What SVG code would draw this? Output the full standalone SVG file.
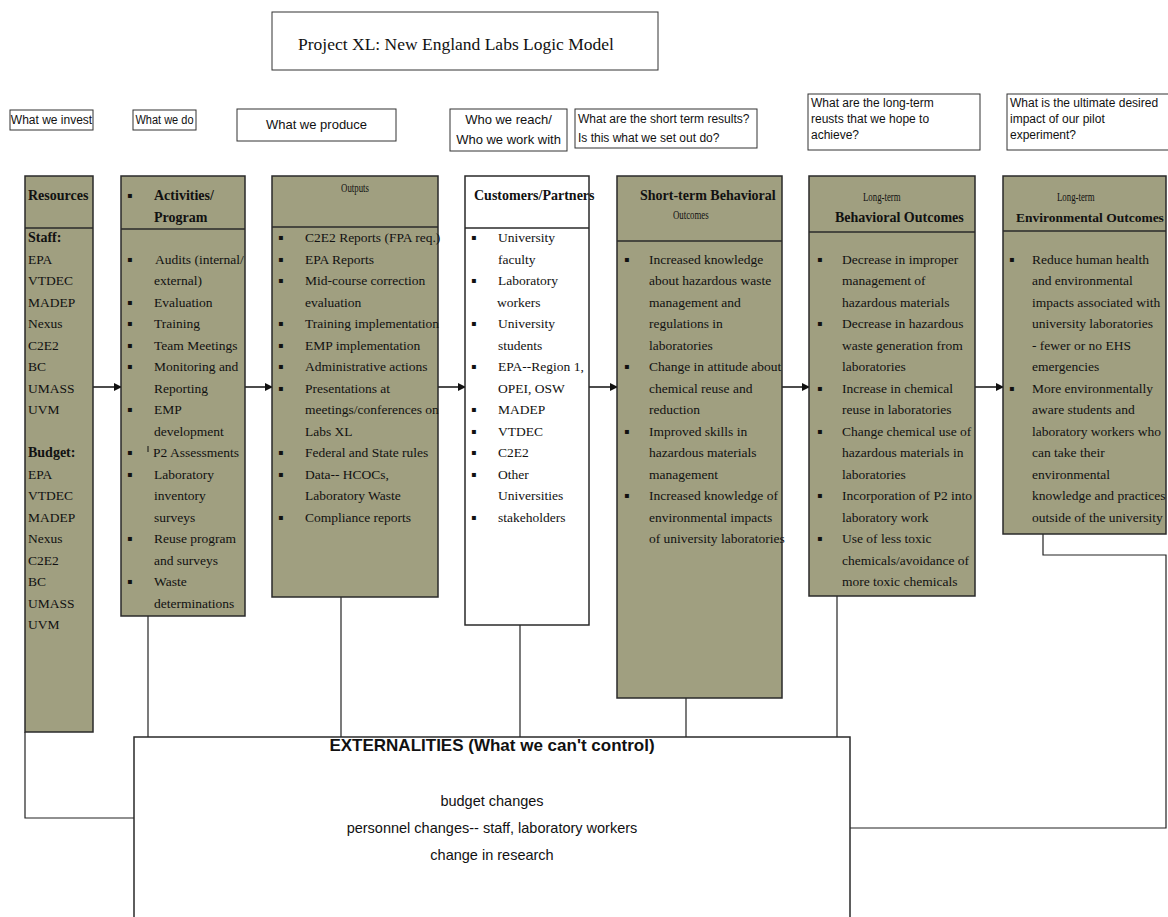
<svg xmlns="http://www.w3.org/2000/svg" width="1168" height="917" viewBox="0 0 1168 917">
<style>
.bg{fill:#ffffff}
.box{fill:#A09F80;stroke:#2a2a2a;stroke-width:1.5}
.wbox{fill:#ffffff;stroke:#2a2a2a;stroke-width:1.5}
.lbl{fill:#ffffff;stroke:#333;stroke-width:1}
.div{stroke:#2a2a2a;stroke-width:1.5}
.t{font-family:"Liberation Serif","Times New Roman",serif;font-size:13.5px;fill:#111}
.b{font-family:"Liberation Serif","Times New Roman",serif;font-size:14px;font-weight:bold;fill:#111}
.s{font-family:"Liberation Serif","Times New Roman",serif;font-size:11px;fill:#111}
.bu{font-family:"DejaVu Sans",sans-serif;font-size:8px;fill:#111}
.q{font-family:"Liberation Sans",Arial,sans-serif;font-size:12px;fill:#111}
.ti{font-family:"Liberation Serif","Times New Roman",serif;font-size:17.5px;fill:#111}
.ex{font-family:"Liberation Sans",Arial,sans-serif;font-size:17px;font-weight:bold;fill:#111}
.ext{font-family:"Liberation Sans",Arial,sans-serif;font-size:14.5px;fill:#111}
.ln{fill:none;stroke:#222;stroke-width:1.2}
.ar{fill:none;stroke:#111;stroke-width:1.5}
</style>
<defs>
<marker id="arr" markerWidth="8" markerHeight="8" refX="7" refY="4" orient="auto" markerUnits="userSpaceOnUse"><path d="M0,0 L8,4 L0,8 z" fill="#111"/></marker>
</defs>
<rect class="bg" x="0" y="0" width="1168" height="917"/>

<g id="title">
<rect class="lbl" x="272" y="12" width="386" height="58"/>
<text class="ti" x="456" y="50" text-anchor="middle">Project XL: New England Labs Logic Model</text>
</g>

<g id="q-invest">
<rect class="lbl" x="10" y="110" width="83" height="20"/>
<text class="q" x="51.5" y="124" text-anchor="middle">What we invest</text>
</g>
<g id="q-do">
<rect class="lbl" x="133" y="110" width="63" height="20"/>
<text class="q" x="164.5" y="124" text-anchor="middle" textLength="58" lengthAdjust="spacingAndGlyphs">What we do</text>
</g>
<g id="q-produce">
<rect class="lbl" x="237" y="109" width="159" height="32"/>
<text class="q" x="316.5" y="129" text-anchor="middle" style="font-size:13px">What we produce</text>
</g>
<g id="q-reach">
<rect class="lbl" x="450" y="109" width="117" height="42"/>
<text class="q" x="508.5" y="124" text-anchor="middle" style="font-size:13px">Who we reach/</text>
<text class="q" x="508.5" y="144" text-anchor="middle" style="font-size:13px">Who we work with</text>
</g>
<g id="q-short">
<rect class="lbl" x="575" y="109" width="182" height="39"/>
<text class="q" x="578" y="123">What are the short term results?</text>
<text class="q" x="578" y="142">Is this what we set out do?</text>
</g>
<g id="q-long">
<rect class="lbl" x="808" y="94" width="172" height="56"/>
<text class="q" x="811" y="107">What are the long-term</text>
<text class="q" x="811" y="123">reusts that we hope to</text>
<text class="q" x="811" y="139">achieve?</text>
</g>
<g id="q-impact">
<rect class="lbl" x="1007" y="94" width="165" height="56"/>
<text class="q" x="1010" y="107">What is the ultimate desired</text>
<text class="q" x="1010" y="123">impact of our pilot</text>
<text class="q" x="1010" y="139">experiment?</text>
</g>

<g id="connectors">
<line class="ar" x1="93" y1="387" x2="121" y2="387" marker-end="url(#arr)"/>
<line class="ar" x1="245" y1="387" x2="272" y2="387" marker-end="url(#arr)"/>
<line class="ar" x1="438" y1="387" x2="465" y2="387" marker-end="url(#arr)"/>
<line class="ar" x1="589" y1="387" x2="617" y2="387" marker-end="url(#arr)"/>
<line class="ar" x1="782" y1="387" x2="809" y2="387" marker-end="url(#arr)"/>
<line class="ar" x1="975" y1="387" x2="1003" y2="387" marker-end="url(#arr)"/>
<polyline class="ln" points="25,732 25,818 134,818"/>
<line class="ln" x1="148" y1="616" x2="148" y2="737"/>
<line class="ln" x1="341" y1="597" x2="341" y2="737"/>
<line class="ln" x1="520" y1="625" x2="520" y2="737"/>
<line class="ln" x1="686" y1="698" x2="686" y2="737"/>
<line class="ln" x1="837" y1="596" x2="837" y2="737"/>
<polyline class="ln" points="1043,534 1043,555 1166,555 1166,828 850,828"/>
</g>

<g id="resources">
<rect class="box" x="25" y="176" width="68" height="556"/>
<line class="div" x1="25" y1="228" x2="93" y2="228"/>
<text class="b" x="28" y="200">Resources</text>
<text class="b" x="28" y="242">Staff:</text>
<text class="t" x="28" y="264">EPA</text>
<text class="t" x="28" y="285">VTDEC</text>
<text class="t" x="28" y="307">MADEP</text>
<text class="t" x="28" y="328">Nexus</text>
<text class="t" x="28" y="350">C2E2</text>
<text class="t" x="28" y="371">BC</text>
<text class="t" x="28" y="393">UMASS</text>
<text class="t" x="28" y="414">UVM</text>
<text class="b" x="28" y="457">Budget:</text>
<text class="t" x="28" y="479">EPA</text>
<text class="t" x="28" y="500">VTDEC</text>
<text class="t" x="28" y="522">MADEP</text>
<text class="t" x="28" y="543">Nexus</text>
<text class="t" x="28" y="565">C2E2</text>
<text class="t" x="28" y="586">BC</text>
<text class="t" x="28" y="608">UMASS</text>
<text class="t" x="28" y="629">UVM</text>
</g>

<g id="activities">
<rect class="box" x="121" y="176" width="124" height="440"/>
<line class="div" x1="121" y1="229" x2="245" y2="229"/>
<text class="bu" x="127" y="198">▪</text>
<text class="b" x="154" y="200">Activities/</text>
<text class="b" x="154" y="222">Program</text>
<text class="bu" x="127" y="262">▪</text><text class="t" x="155" y="264">Audits (internal/</text>
<text class="t" x="154" y="285">external)</text>
<text class="bu" x="127" y="305">▪</text><text class="t" x="154" y="307">Evaluation</text>
<text class="bu" x="127" y="326">▪</text><text class="t" x="154" y="328">Training</text>
<text class="bu" x="127" y="348">▪</text><text class="t" x="154" y="350">Team Meetings</text>
<text class="bu" x="127" y="369">▪</text><text class="t" x="154" y="371">Monitoring and</text>
<text class="t" x="154" y="393">Reporting</text>
<text class="bu" x="127" y="412">▪</text><text class="t" x="154" y="414">EMP</text>
<text class="t" x="154" y="436">development</text>
<text class="bu" x="127" y="455">▪</text><line x1="148" y1="446" x2="148" y2="452" stroke="#111" stroke-width="1"/><text class="t" x="153" y="457">P2 Assessments</text>
<text class="bu" x="127" y="477">▪</text><text class="t" x="154" y="479">Laboratory</text>
<text class="t" x="154" y="500">inventory</text>
<text class="t" x="154" y="522">surveys</text>
<text class="bu" x="127" y="541">▪</text><text class="t" x="154" y="543">Reuse program</text>
<text class="t" x="154" y="565">and surveys</text>
<text class="bu" x="127" y="584">▪</text><text class="t" x="154" y="586">Waste</text>
<text class="t" x="154" y="608">determinations</text>
</g>

<g id="outputs">
<rect class="box" x="272" y="176" width="166" height="421"/>
<line class="div" x1="272" y1="227" x2="438" y2="227"/>
<text class="s" transform="translate(355,192) scale(0.8,1.2)" text-anchor="middle">Outputs</text>
<text class="bu" x="278" y="240">▪</text><text class="t" x="305" y="242">C2E2 Reports (FPA req.)</text>
<text class="bu" x="278" y="262">▪</text><text class="t" x="305" y="264">EPA Reports</text>
<text class="bu" x="278" y="283">▪</text><text class="t" x="305" y="285">Mid-course correction</text>
<text class="t" x="305" y="307">evaluation</text>
<text class="bu" x="278" y="326">▪</text><text class="t" x="305" y="328">Training implementation</text>
<text class="bu" x="278" y="348">▪</text><text class="t" x="305" y="350">EMP implementation</text>
<text class="bu" x="278" y="369">▪</text><text class="t" x="305" y="371">Administrative actions</text>
<text class="bu" x="278" y="391">▪</text><text class="t" x="305" y="393">Presentations at</text>
<text class="t" x="305" y="414">meetings/conferences on</text>
<text class="t" x="305" y="436">Labs XL</text>
<text class="bu" x="278" y="455">▪</text><text class="t" x="305" y="457">Federal and State rules</text>
<text class="bu" x="278" y="477">▪</text><text class="t" x="305" y="479">Data-- HCOCs,</text>
<text class="t" x="305" y="500">Laboratory Waste</text>
<text class="bu" x="278" y="520">▪</text><text class="t" x="305" y="522">Compliance reports</text>
</g>

<g id="customers">
<rect class="wbox" x="465" y="176" width="124" height="449"/>
<line class="div" x1="465" y1="228" x2="589" y2="228"/>
<text class="b" x="474" y="200">Customers/Partners</text>
<text class="bu" x="471" y="240">▪</text><text class="t" x="498" y="242">University</text>
<text class="t" x="498" y="264">faculty</text>
<text class="bu" x="471" y="283">▪</text><text class="t" x="498" y="285">Laboratory</text>
<text class="t" x="497" y="307">workers</text>
<text class="bu" x="471" y="326">▪</text><text class="t" x="498" y="328">University</text>
<text class="t" x="498" y="350">students</text>
<text class="bu" x="471" y="369">▪</text><text class="t" x="498" y="371">EPA--Region 1,</text>
<text class="t" x="498" y="393">OPEI, OSW</text>
<text class="bu" x="471" y="412">▪</text><text class="t" x="498" y="414">MADEP</text>
<text class="bu" x="471" y="434">▪</text><text class="t" x="498" y="436">VTDEC</text>
<text class="bu" x="471" y="455">▪</text><text class="t" x="498" y="457">C2E2</text>
<text class="bu" x="471" y="477">▪</text><text class="t" x="498" y="479">Other</text>
<text class="t" x="498" y="500">Universities</text>
<text class="bu" x="471" y="520">▪</text><text class="t" x="498" y="522">stakeholders</text>
</g>

<g id="short-term">
<rect class="box" x="617" y="176" width="165" height="522"/>
<line class="div" x1="617" y1="241" x2="782" y2="241"/>
<text class="b" x="640" y="200">Short-term Behavioral</text>
<text class="s" transform="translate(673,219) scale(0.8,1.2)">Outcomes</text>
<text class="bu" x="624" y="262">▪</text><text class="t" x="649" y="264">Increased knowledge</text>
<text class="t" x="649" y="285">about hazardous waste</text>
<text class="t" x="649" y="307">management  and</text>
<text class="t" x="649" y="328">regulations in</text>
<text class="t" x="649" y="350">laboratories</text>
<text class="bu" x="624" y="369">▪</text><text class="t" x="649" y="371">Change in attitude about</text>
<text class="t" x="649" y="393">chemical reuse and</text>
<text class="t" x="649" y="414">reduction</text>
<text class="bu" x="624" y="434">▪</text><text class="t" x="649" y="436">Improved skills in</text>
<text class="t" x="649" y="457">hazardous materials</text>
<text class="t" x="649" y="479">management</text>
<text class="bu" x="624" y="498">▪</text><text class="t" x="649" y="500">Increased knowledge of</text>
<text class="t" x="649" y="522">environmental impacts</text>
<text class="t" x="649" y="543">of university laboratories</text>
</g>

<g id="long-term">
<rect class="box" x="809" y="176" width="166" height="420"/>
<line class="div" x1="809" y1="232" x2="975" y2="232"/>
<text class="s" transform="translate(863,201) scale(0.8,1.2)">Long-term</text>
<text class="b" x="835" y="222">Behavioral Outcomes</text>
<text class="bu" x="817" y="262">▪</text><text class="t" x="842" y="264">Decrease in improper</text>
<text class="t" x="842" y="285">management of</text>
<text class="t" x="842" y="307">hazardous materials</text>
<text class="bu" x="817" y="326">▪</text><text class="t" x="842" y="328">Decrease in hazardous</text>
<text class="t" x="842" y="350">waste generation from</text>
<text class="t" x="842" y="371">laboratories</text>
<text class="bu" x="817" y="391">▪</text><text class="t" x="842" y="393">Increase in chemical</text>
<text class="t" x="842" y="414">reuse in laboratories</text>
<text class="bu" x="817" y="434">▪</text><text class="t" x="842" y="436">Change chemical  use of</text>
<text class="t" x="842" y="457">hazardous materials in</text>
<text class="t" x="842" y="479">laboratories</text>
<text class="bu" x="817" y="498">▪</text><text class="t" x="842" y="500">Incorporation of P2 into</text>
<text class="t" x="842" y="522">laboratory work</text>
<text class="bu" x="817" y="541">▪</text><text class="t" x="842" y="543">Use of less toxic</text>
<text class="t" x="842" y="565">chemicals/avoidance of</text>
<text class="t" x="842" y="586">more toxic chemicals</text>
</g>

<g id="environmental">
<rect class="box" x="1003" y="176" width="163" height="358"/>
<line class="div" x1="1003" y1="231" x2="1166" y2="231"/>
<text class="s" transform="translate(1057,201) scale(0.8,1.2)">Long-term</text>
<text class="b" x="1016" y="222" style="font-size:13.5px">Environmental Outcomes</text>
<text class="bu" x="1009" y="262">▪</text><text class="t" x="1032" y="264">Reduce human health</text>
<text class="t" x="1032" y="285">and environmental</text>
<text class="t" x="1032" y="307">impacts associated with</text>
<text class="t" x="1032" y="328">university laboratories</text>
<text class="t" x="1032" y="350">- fewer or no EHS</text>
<text class="t" x="1032" y="371">emergencies</text>
<text class="bu" x="1009" y="391">▪</text><text class="t" x="1032" y="393">More environmentally</text>
<text class="t" x="1032" y="414">aware students and</text>
<text class="t" x="1032" y="436">laboratory workers who</text>
<text class="t" x="1032" y="457">can take their</text>
<text class="t" x="1032" y="479">environmental</text>
<text class="t" x="1032" y="500">knowledge and practices</text>
<text class="t" x="1032" y="522">outside of the university</text>
</g>

<g id="externalities">
<rect class="wbox" x="134" y="737" width="716" height="200"/>
<text class="ex" x="492" y="751" text-anchor="middle">EXTERNALITIES (What we can't control)</text>
<text class="ext" x="492" y="806" text-anchor="middle">budget changes</text>
<text class="ext" x="492" y="833" text-anchor="middle">personnel changes-- staff, laboratory workers</text>
<text class="ext" x="492" y="860" text-anchor="middle">change in research</text>
</g>
</svg>
